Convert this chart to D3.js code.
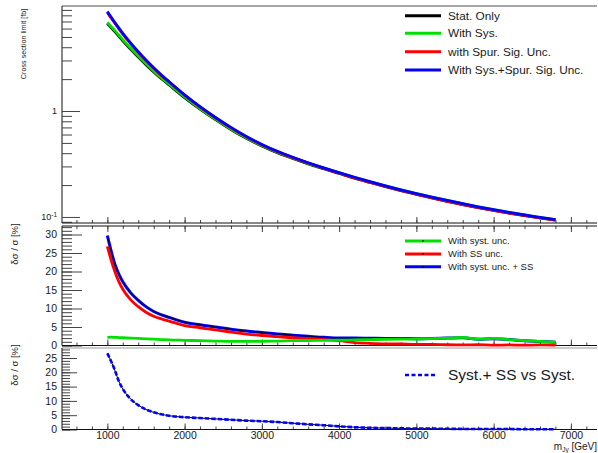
<!DOCTYPE html>
<html>
<head>
<meta charset="utf-8">
<script src="https://cdn.jsdelivr.net/npm/d3@7"></script>
<style>
  body { margin: 0; background: #fff; }
  svg { display: block; font-family: "Liberation Sans", Arial, sans-serif; }
  .tick line { stroke: #444; }
  .domain { stroke: #111; }
</style>
</head>
<body>
<svg id="chart" width="598" height="453"></svg>
<script>
// Resonance mass points [GeV]
const masses = [1000,1050,1100,1150,1200,1300,1400,1500,1600,1700,1800,2000,2200,2400,2600,2800,3000,3200,3400,3600,3800,4000,4200,4400,4600,4800,5000,5200,5400,5600,5800,6000,6200,6400,6600,6800];

// Cross-section limits [fb]
const limitStatOnly = [6.71,6.10,5.59,5.08,4.61,3.85,3.24,2.74,2.34,2.02,1.76,1.338,1.041,0.828,0.670,0.553,0.468,0.404,0.356,0.317,0.285,0.257,0.232,0.2114,0.1931,0.1771,0.1634,0.1511,0.1403,0.1307,0.1227,0.1151,0.1088,0.1032,0.0981,0.0935];
const limitWithSys = [6.86,6.24,5.71,5.19,4.71,3.93,3.30,2.79,2.38,2.05,1.79,1.357,1.055,0.838,0.677,0.559,0.473,0.409,0.361,0.321,0.289,0.261,0.236,0.2148,0.1963,0.1801,0.1663,0.1539,0.1431,0.1336,0.1248,0.1173,0.1105,0.1045,0.0992,0.0943];
const limitWithSpur = [8.51,7.50,6.70,5.95,5.31,4.33,3.58,2.99,2.53,2.16,1.88,1.410,1.090,0.863,0.693,0.570,0.481,0.414,0.363,0.323,0.289,0.260,0.234,0.2127,0.1940,0.1778,0.1639,0.1516,0.1406,0.1309,0.1229,0.1152,0.1089,0.1033,0.0982,0.0936];
const limitSysSpur = [8.70,7.66,6.79,6.05,5.41,4.40,3.63,3.03,2.56,2.19,1.89,1.422,1.099,0.869,0.700,0.575,0.484,0.417,0.366,0.325,0.291,0.262,0.237,0.2155,0.1968,0.1805,0.1664,0.1540,0.1431,0.1334,0.1248,0.1172,0.1105,0.1045,0.0992,0.0943];

// Relative change of the limit [%]
const relSyst = [2.2,2.25,2.2,2.15,2.1,2.0,1.9,1.8,1.7,1.6,1.5,1.4,1.3,1.2,1.1,1.1,1.15,1.2,1.3,1.35,1.4,1.45,1.5,1.6,1.65,1.7,1.75,1.85,2.0,2.2,1.7,1.9,1.6,1.3,1.1,0.9];
const relSS = [26.8,23.0,19.8,17.2,15.2,12.4,10.5,9.0,7.9,7.2,6.6,5.4,4.8,4.2,3.6,3.1,2.7,2.4,2.1,1.9,1.6,1.3,0.8,0.6,0.45,0.4,0.3,0.3,0.2,0.15,0.2,0.1,0.15,0.1,0.15,0.1];
const relSystSS = [29.7,25.5,21.8,19.2,17.2,14.3,12.2,10.5,9.2,8.3,7.6,6.3,5.6,5.0,4.4,3.9,3.5,3.1,2.8,2.5,2.2,2.0,2.0,1.95,1.9,1.9,1.85,1.9,2.0,2.1,1.7,1.8,1.6,1.3,1.1,0.9];

// Syst.+SS relative to Syst. only [%]
const relSystSSvsSyst = [26.6,23.8,20.5,16.8,14.2,10.7,8.5,7.0,6.0,5.3,4.8,4.3,4.0,3.7,3.4,3.1,2.9,2.6,2.2,1.8,1.5,1.1,0.8,0.6,0.5,0.4,0.3,0.3,0.25,0.2,0.2,0.15,0.15,0.1,0.1,0.1];

const xTickValues = [1000,2000,3000,4000,5000,6000,7000];
const yTicksMid = [0,5,10,15,20,25,30];
const yTicksBot = [0,5,10,15,20,25];

const legendTop = ["Stat. Only","With Sys.","with Spur. Sig. Unc.","With Sys.+Spur. Sig. Unc."];
const legendMid = ["With syst. unc.","With SS unc.","With syst. unc. + SS"];
const legendBot = "Syst.+ SS vs Syst.";

const GREEN = "#00e000", RED = "#ff0000", BLUE = "#0000ff", BLACK = "#000000";

const svg = d3.select("#chart");
const X0 = 62, X1 = 597;
const x = d3.scaleLinear().domain([413, 7338]).range([X0, X1]);

const minorX = d3.range(600, 7400, 200).filter(v => x(v) > X0 && x(v) < X1);

// ---- panel geometry
const padTop = { y0: 6, y1: 223 };
const padMid = { y0: 226, y1: 345.5 };
const padBot = { y0: 348, y1: 429.5 };

const yTop = d3.scaleLog().domain([0.0877, 9.8]).range([padTop.y1, padTop.y0]);
const yMid = d3.scaleLinear().domain([0, 32.3]).range([padMid.y1, padMid.y0]);
const yBot = d3.scaleLinear().domain([0, 28.5]).range([padBot.y1, padBot.y0]);

function xAxes(yPos, dir, labels) {
  const axisFn = dir === "up" ? d3.axisBottom : d3.axisTop;
  svg.append("g").attr("transform", `translate(0,${yPos})`)
    .call(axisFn(x).tickValues(minorX).tickSizeInner(-3).tickSizeOuter(0).tickFormat(""))
    .call(g => g.select(".domain").remove());
  const g = svg.append("g").attr("transform", `translate(0,${yPos})`)
    .call(axisFn(x).tickValues(xTickValues).tickSizeInner(-6).tickSizeOuter(0)
      .tickPadding(2).tickFormat(labels ? d3.format("d") : ""));
  g.select(".domain").attr("d", `M${X0},0H${X1}`);
  g.selectAll("text").attr("font-size", 10.5).attr("fill", "#1a1a1a")
    .attr("font-family", "Liberation Sans, Arial, sans-serif");
  return g;
}

function yLinearAxis(scale, majors, maxV, majorLen, minorLen) {
  const minors = d3.range(0, maxV + 0.001, 1);
  svg.append("g").attr("transform", `translate(${X0},0)`)
    .call(d3.axisLeft(scale).tickValues(minors).tickSizeInner(-minorLen).tickSizeOuter(0).tickFormat(""))
    .call(g => g.select(".domain").remove());
  const g = svg.append("g").attr("transform", `translate(${X0},0)`)
    .call(d3.axisLeft(scale).tickValues(majors).tickSizeInner(-majorLen).tickSizeOuter(0).tickPadding(5).tickFormat(d3.format("d")));
  g.select(".domain").remove();
  g.selectAll("text").attr("font-size", 10.5).attr("fill", "#1a1a1a")
    .attr("font-family", "Liberation Sans, Arial, sans-serif");
  return g;
}

// ================= top panel: limits =================
svg.append("line").attr("x1", X0).attr("x2", X1).attr("y1", padTop.y0).attr("y2", padTop.y0)
  .attr("stroke", "#888").attr("stroke-width", 1.6);

const logMinor = [0.09,0.2,0.3,0.4,0.5,0.6,0.7,0.8,0.9,2,3,4,5,6,7,8,9];
svg.append("g").attr("transform", `translate(${X0},0)`)
  .call(d3.axisLeft(yTop).tickValues(logMinor).tickSizeInner(-10).tickSizeOuter(0).tickFormat(""))
  .call(g => g.select(".domain").attr("d", `M0,${padTop.y0}V${padTop.y1}`));
const gLogMaj = svg.append("g").attr("transform", `translate(${X0},0)`)
  .call(d3.axisLeft(yTop).tickValues([0.1, 1]).tickSizeInner(-18).tickSizeOuter(0).tickPadding(5).tickFormat(""))
  .call(g => g.select(".domain").remove());
gLogMaj.selectAll(".tick").each(function (d) {
  const t = d3.select(this).append("text").attr("x", -5).attr("dy", "0.32em")
    .attr("text-anchor", "end").attr("font-size", 9).attr("fill", "#1a1a1a");
  if (d === 1) t.text("1");
  else {
    t.append("tspan").text("10");
    t.append("tspan").attr("dy", "-0.45em").attr("font-size", 6.5).text("-1");
  }
});
xAxes(padTop.y1, "up", false);

svg.append("text").attr("transform", `translate(26,44) rotate(-90)`)
  .attr("text-anchor", "middle").attr("font-size", 7.2).attr("fill", "#1a1a1a")
  .text("Cross section limit [fb]");

const lineTop = d3.line().x((d, i) => x(masses[i])).y(d => yTop(d)).curve(d3.curveMonotoneX);
const topSeries = [
  { v: limitStatOnly, c: BLACK },
  { v: limitWithSys, c: GREEN },
  { v: limitWithSpur, c: RED },
  { v: limitSysSpur, c: BLUE }
];
topSeries.forEach(s => {
  svg.append("path").attr("d", lineTop(s.v)).attr("fill", "none")
    .attr("stroke", s.c).attr("stroke-width", 2.8).attr("stroke-linejoin", "round");
});

const legTopY = [15.7, 33.3, 51.7, 70];
legendTop.forEach((label, i) => {
  svg.append("line").attr("x1", 405).attr("x2", 441).attr("y1", legTopY[i]).attr("y2", legTopY[i])
    .attr("stroke", topSeries[i].c).attr("stroke-width", 3);
  svg.append("text").attr("x", 448).attr("y", legTopY[i]).attr("dy", "0.35em")
    .attr("font-size", 11.8).attr("fill", "#1a1a1a").text(label);
});

// ================= middle panel: relative changes =================
yLinearAxis(yMid, yTicksMid, 32, 20, 10);
svg.append("line").attr("x1", X0).attr("x2", X0).attr("y1", padMid.y0).attr("y2", padMid.y1).attr("stroke", "#111");
xAxes(padMid.y1, "up", false);
xAxes(padMid.y0, "down", false);

svg.append("text").attr("transform", `translate(18,244) rotate(-90)`)
  .attr("text-anchor", "middle").attr("font-size", 9.5).attr("fill", "#1a1a1a")
  .text("δσ / σ [%]");

const lineMid = d3.line().x((d, i) => x(masses[i])).y(d => yMid(d)).curve(d3.curveMonotoneX);
svg.append("path").attr("d", lineMid(relSystSS)).attr("fill", "none").attr("stroke", BLUE).attr("stroke-width", 3);
svg.append("path").attr("d", lineMid(relSystSS)).attr("fill", "none").attr("stroke", "#000040").attr("stroke-width", 1);
svg.append("path").attr("d", lineMid(relSS)).attr("fill", "none").attr("stroke", RED).attr("stroke-width", 2.8);
svg.append("path").attr("d", lineMid(relSyst)).attr("fill", "none").attr("stroke", GREEN).attr("stroke-width", 2.8);

const legMidY = [241, 254, 266.7];
const legMidC = [GREEN, RED, BLUE];
legendMid.forEach((label, i) => {
  svg.append("line").attr("x1", 405).attr("x2", 441).attr("y1", legMidY[i]).attr("y2", legMidY[i])
    .attr("stroke", legMidC[i]).attr("stroke-width", 3);
  svg.append("line").attr("x1", 422).attr("x2", 424).attr("y1", legMidY[i]).attr("y2", legMidY[i])
    .attr("stroke", "#000").attr("stroke-width", 1);
  svg.append("text").attr("x", 448).attr("y", legMidY[i]).attr("dy", "0.35em")
    .attr("font-size", 9.5).attr("fill", "#1a1a1a").text(label);
});

// ================= bottom panel =================
svg.append("line").attr("x1", X0).attr("x2", X1).attr("y1", padBot.y0).attr("y2", padBot.y0)
  .attr("stroke", "#999").attr("stroke-width", 1);
yLinearAxis(yBot, yTicksBot, 28, 15, 8);
svg.append("line").attr("x1", X0).attr("x2", X0).attr("y1", padBot.y0).attr("y2", padBot.y1).attr("stroke", "#111");
xAxes(padBot.y1, "up", true);

svg.append("text").attr("transform", `translate(18,365) rotate(-90)`)
  .attr("text-anchor", "middle").attr("font-size", 9.5).attr("fill", "#1a1a1a")
  .text("δσ / σ [%]");

const lineBot = d3.line().x((d, i) => x(masses[i])).y(d => yBot(d)).curve(d3.curveMonotoneX);
svg.append("path").attr("d", lineBot(relSystSSvsSyst)).attr("fill", "none").attr("stroke", "#000").attr("stroke-width", 1);
svg.append("path").attr("d", lineBot(relSystSSvsSyst)).attr("fill", "none").attr("stroke", BLUE)
  .attr("stroke-width", 2.6).attr("stroke-dasharray", "4.5,2");

svg.append("line").attr("x1", 405).attr("x2", 437).attr("y1", 375).attr("y2", 375)
  .attr("stroke", BLUE).attr("stroke-width", 2.6).attr("stroke-dasharray", "4,2.5");
svg.append("text").attr("x", 448).attr("y", 375).attr("dy", "0.35em")
  .attr("font-size", 15.5).attr("fill", "#1a1a1a").text(legendBot);

// x-axis title
const xt = svg.append("text").attr("x", 597).attr("y", 449.5).attr("text-anchor", "end")
  .attr("font-size", 10).attr("fill", "#1a1a1a");
xt.append("tspan").text("m");
xt.append("tspan").attr("dy", 2).attr("font-size", 6.5).text("Jγ");
xt.append("tspan").attr("dy", -2).text(" [GeV]");
</script>
</body>
</html>
